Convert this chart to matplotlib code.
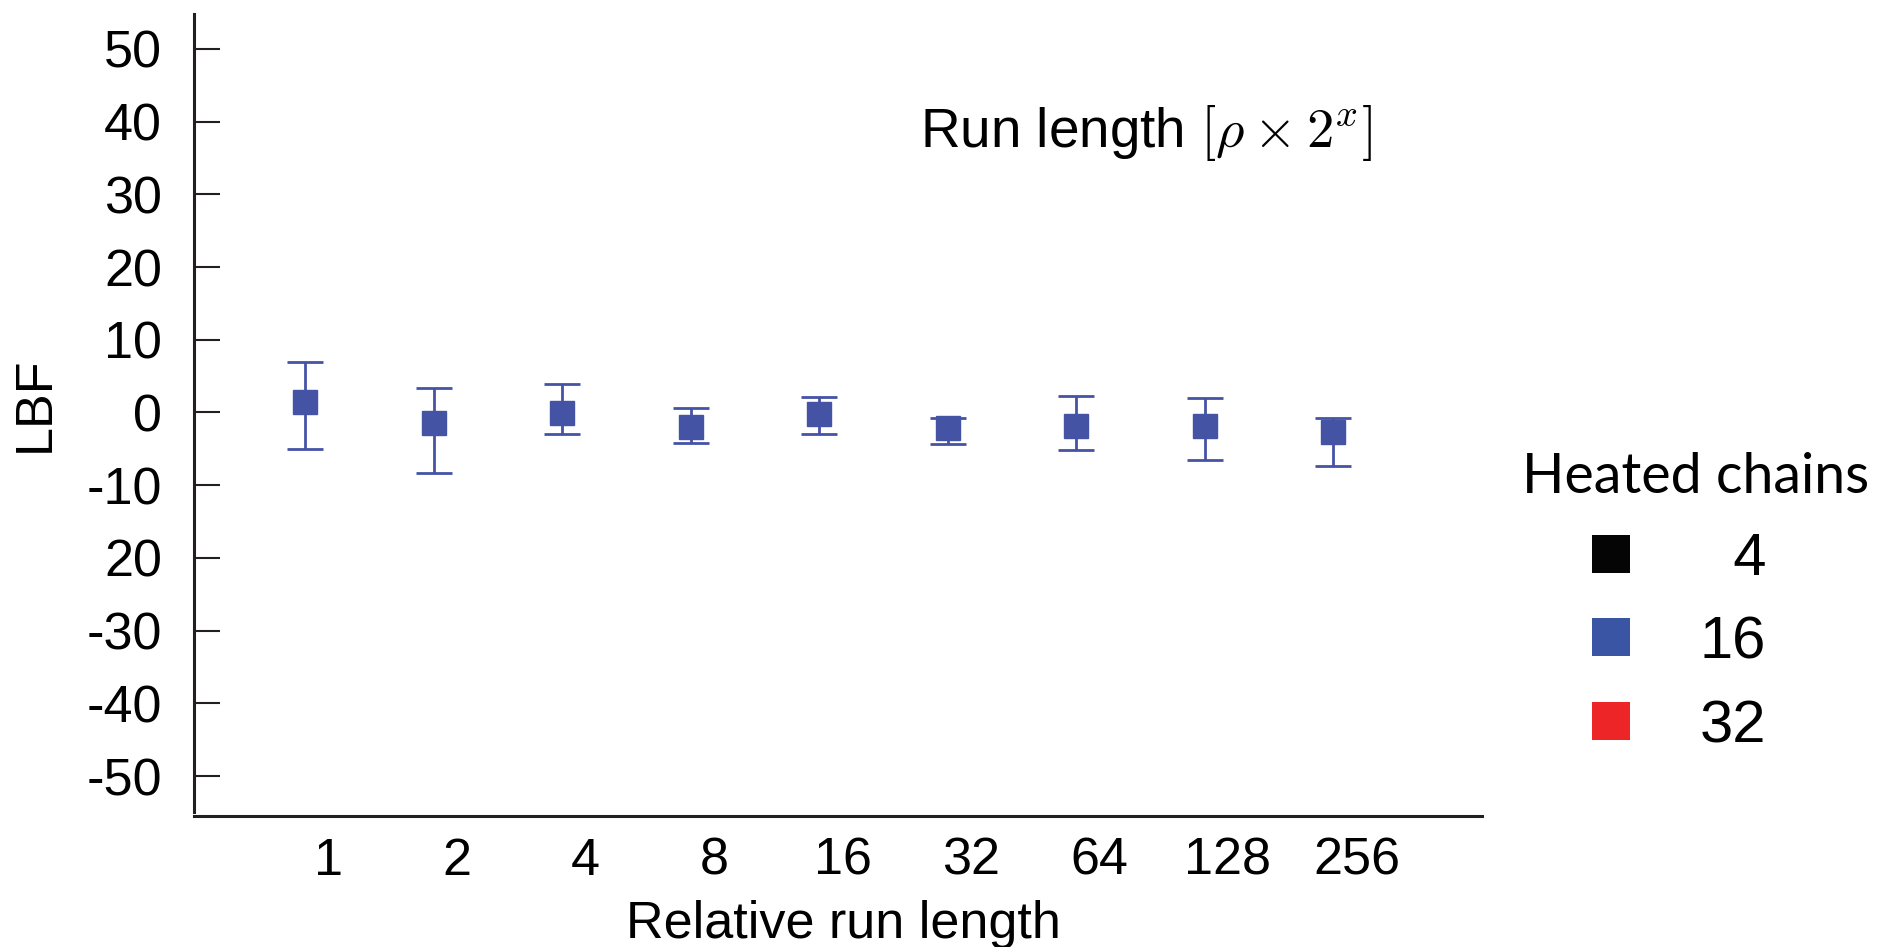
import matplotlib
matplotlib.use("Agg")
import matplotlib.pyplot as plt
from matplotlib.lines import Line2D
from matplotlib.font_manager import FontProperties
import numpy as np

plt.rcParams['font.family'] = ['Liberation Sans', 'DejaVu Sans']
plt.rcParams['mathtext.fontset'] = 'cm'

# LBF per relative run length (16 heated chains): mean and interval bounds
run_lengths = [1, 2, 4, 8, 16, 32, 64, 128, 256]
lbf_mean = [1.45, -1.45, -0.05, -2.0, -0.2, -2.15, -1.85, -1.85, -2.7]
lbf_upper = [6.95, 3.4, 3.95, 0.55, 2.1, -0.8, 2.3, 1.95, -0.7]
lbf_lower = [-5.0, -8.35, -3.0, -4.25, -2.9, -4.35, -5.1, -6.6, -7.4]

y_ticks = [-50, -40, -30, -20, -10, 0, 10, 20, 30, 40, 50]
y_tick_labels = ['-50', '-40', '-30', '20', '-10', '0', '10', '20', '30', '40', '50']

chain_counts = [4, 16, 32]
chain_colors = ['#050505', '#3B55A5', '#EE2526']
point_color = '#4553A5'
axis_color = '#231F20'

fig = plt.figure(figsize=(18.8, 9.47), dpi=100)
ax = fig.add_axes([0.1032, 0.1383, 0.6851, 0.8469])

x = np.arange(len(run_lengths))
mean = np.array(lbf_mean)
yerr = [mean - np.array(lbf_lower), np.array(lbf_upper) - mean]
ax.errorbar(x, mean, yerr=yerr, fmt='s', color=point_color, ms=17,
            elinewidth=2, capsize=12.7, capthick=2)

ax.set_xlim(-0.866, 9.157)
ax.set_ylim(-55.5, 54.8)

for side in ['top', 'right']:
    ax.spines[side].set_visible(False)
for side in ['left', 'bottom']:
    ax.spines[side].set_linewidth(2.2)
    ax.spines[side].set_color(axis_color)
ax.spines['left'].set_bounds(-55.0, 54.8)

ax.set_yticks(y_ticks)
ax.set_yticklabels(y_tick_labels)
ax.set_xticks(x + 0.18)
ax.set_xticklabels([str(r) for r in run_lengths])
ax.tick_params(axis='y', direction='in', length=18.7, width=1.5, pad=23,
               labelsize=37.5, color=axis_color)
ax.tick_params(axis='x', length=0, pad=15, labelsize=37.5)

ax.set_xlabel('Relative run length', fontsize=37.5)
ax.xaxis.set_label_coords(0.5045, -0.105)
ax.set_ylabel('LBF', fontsize=37.5)
ax.yaxis.set_label_coords(-0.104, 0.514)

fig.text(920 / 1880, 1 - 147 / 947, r'Run length $[\rho\times 2^x]$',
         fontsize=39.5, va='baseline')

# legend for heated chain counts, labels padded so digits line up on the right
handles = [Line2D([0], [0], marker='s', ls='', markersize=28, mew=0, color=c)
           for c in chain_colors]
labels = [' ' * 2 * (2 - len(str(n))) + str(n) for n in chain_counts]
leg = ax.legend(handles, labels, title='Heated chains', frameon=False,
                loc='upper left', bbox_to_anchor=(1522 / 1880, 1 - 452 / 947),
                bbox_transform=fig.transFigure, borderpad=0, borderaxespad=0,
                handlelength=2.98, handletextpad=0.0, labelspacing=0.48,
                alignment='left', prop={'size': 43},
                title_fontproperties=FontProperties(family='Lato', size=40))

fig.savefig('out.png', dpi=100)
